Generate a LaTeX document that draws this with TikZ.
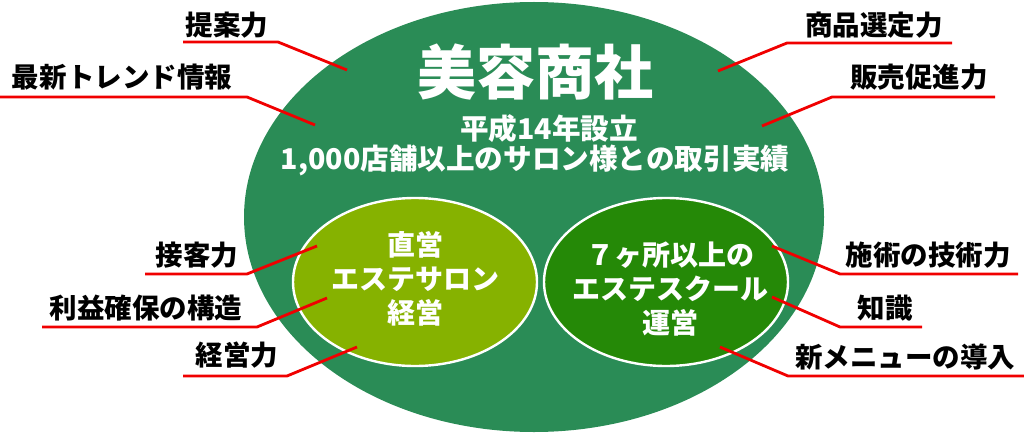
\documentclass[tikz,border=0pt]{standalone}
\usepackage{fontspec}
\newfontfamily\jpfont{Noto Sans CJK JP}
\usetikzlibrary{
	positioning,
	shapes,
}
\definecolor{firmgreen}{RGB}{42,140,86}
\definecolor{salongreen}{RGB}{134,178,0}
\definecolor{schoolgreen}{RGB}{37,137,7}
\definecolor{leadred}{RGB}{240,0,0}
\tikzset{default node/.style={
	inner sep=0mm,
	font=\jpfont\bfseries\fontsize{27.5}{33}\selectfont,
	black,
}}

\begin{document}
\begin{tikzpicture}[
x=1pt, y=-1pt,
leader/.style={
	leadred,
	line width=2.8pt,
	line join=round,
}]
% \draw [help lines] (0,0) grid (1024,433);
\useasboundingbox (0,0) rectangle (1024,433);

\tikzset{
	firm/.style={ellipse, fill=firmgreen, inner sep=0, minimum width=580, minimum height=430},
	inner/.style={ellipse, draw=white, line width=2.4pt, inner sep=0, minimum width=244, minimum height=168},
	intext/.style={default node, white, align=center, font=\jpfont\bfseries\fontsize{28}{34}\selectfont},
	head/.style={default node, white},
}

\node(company)[firm] 						at(534,217)	{};
\node(title)[head, font=\jpfont\bfseries\fontsize{59}{59}\selectfont] at(535,72) {美容商社};
\node(since)[head, font=\jpfont\bfseries\fontsize{28.6}{28}\selectfont] at(549,129) {平成14年設立};
\node(record)[head, font=\jpfont\bfseries\fontsize{28.6}{28}\selectfont] at(535,160) {1,000店舗以上のサロン様との取引実績};

\node(salon)[inner, fill=salongreen] 		at(415,282)	{};
\node(school)[inner, fill=schoolgreen] 	at(666,282)	{};
\node(salon text)[intext] 					at(415,279)	{直営\\エステサロン\\経営};
\node(school text)[intext] 				at(670,289)	{７ヶ所以上の\\エステスクール\\運営};

\begin{scope}[every node/.style={default node}]
\node(teian) 		at(227,25)	{提案力};
\node(trend) 		at(122,77)	{最新トレンド情報};
\node(shohin) 		at(874,25)	{商品選定力};
\node(hansoku) 	at(919,77)	{販売促進力};
\node(sekkyaku) 	at(197,255)	{接客力};
\node(rieki) 		at(146,308)	{利益確保の構造};
\node(keiei) 		at(237,355)	{経営力};
\node(sejutsu) 	at(928,255)	{施術の技術力};
\node(chishiki) 	at(885,308)	{知識};
\node(menu) 		at(905,357)	{新メニューの導入};
\end{scope}

% leader points: p in the ellipse, k at the bend, e at the end of the underline
\coordinate (teian p) at(347,70);		\coordinate (teian k) at(278,42);		\coordinate (teian e) at(183,42);
\coordinate (trend p) at(315,125);		\coordinate (trend k) at(247,97);		\coordinate (trend e) at(0,97);
\coordinate (shohin p) at(718,71);		\coordinate (shohin k) at(787,43);		\coordinate (shohin e) at(952,43);
\coordinate (hansoku p) at(762,126);	\coordinate (hansoku k) at(832,97);		\coordinate (hansoku e) at(995,97);
\coordinate (sekkyaku p) at(317,246);	\coordinate (sekkyaku k) at(247,274);	\coordinate (sekkyaku e) at(145,274);
\coordinate (rieki p) at(327,298);		\coordinate (rieki k) at(257,327);		\coordinate (rieki e) at(42,327);
\coordinate (keiei p) at(357,347);		\coordinate (keiei k) at(287,376);		\coordinate (keiei e) at(183,376);
\coordinate (sejutsu p) at(772,246);	\coordinate (sejutsu k) at(840,274);	\coordinate (sejutsu e) at(1018,274);
\coordinate (chishiki p) at(772,297);	\coordinate (chishiki k) at(840,327);	\coordinate (chishiki e) at(922,327);
\coordinate (menu p) at(720,347);		\coordinate (menu k) at(788,376);		\coordinate (menu e) at(1024,376);

\begin{scope}[leader]
\draw (teian p) -- (teian k) -- (teian e);
\draw (trend p) -- (trend k) -- (trend e);
\draw (shohin p) -- (shohin k) -- (shohin e);
\draw (hansoku p) -- (hansoku k) -- (hansoku e);
\draw (sekkyaku p) -- (sekkyaku k) -- (sekkyaku e);
\draw (rieki p) -- (rieki k) -- (rieki e);
\draw (keiei p) -- (keiei k) -- (keiei e);
\draw (sejutsu p) -- (sejutsu k) -- (sejutsu e);
\draw (chishiki p) -- (chishiki k) -- (chishiki e);
\draw (menu p) -- (menu k) -- (menu e);
\end{scope}

\end{tikzpicture}
\end{document}
